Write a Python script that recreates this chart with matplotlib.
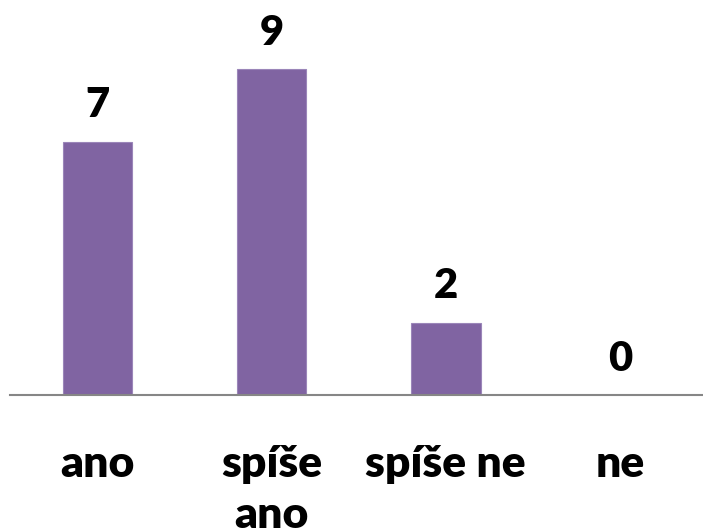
import matplotlib
matplotlib.use("Agg")
import matplotlib.pyplot as plt

categories = ["ano", "spíše\nano", "spíše ne", "ne"]
values = [7, 9, 2, 0]

plt.rcParams['font.family'] = ['Lato', 'DejaVu Sans']

W, H = 703, 531
fig = plt.figure(figsize=(W / 100, H / 100), dpi=100)
# axes placed in pixel terms: baseline at y=395, 36.2 px per unit
left, right = 10.4, 707.0
base_y, unit = 395.0, 36.2
ax = fig.add_axes([left / W, (H - base_y) / H, (right - left) / W, unit * 10 / H])

x = range(len(categories))
ax.bar(x, values, width=0.4, color="#8064A2", edgecolor="#9b86b9", linewidth=0.8)
ax.set_xlim(-0.5, 3.5)
ax.set_ylim(0, 10)

for xi, v in zip(x, values):
    ax.annotate(str(v), (xi, v), xytext=(0, 17.5), textcoords="offset points",
                ha="center", va="baseline", fontsize=30, fontweight=800,
                annotation_clip=False)

# category labels, one line at a time (line pitch ~51 px)
for xi, lab in zip(x, categories):
    for i, line in enumerate(lab.split("\n")):
        ax.annotate(line, (xi, 0), xytext=(0, -59 - i * 36.7), textcoords="offset points",
                    ha="center", va="baseline", fontsize=32, fontweight=800,
                    annotation_clip=False)

ax.set_xticks([])
ax.set_yticks([])
for s in ["top", "right", "left"]:
    ax.spines[s].set_visible(False)
ax.spines["bottom"].set_color("#868686")
ax.spines["bottom"].set_linewidth(1.5)

fig.savefig("out.png", dpi=100)
